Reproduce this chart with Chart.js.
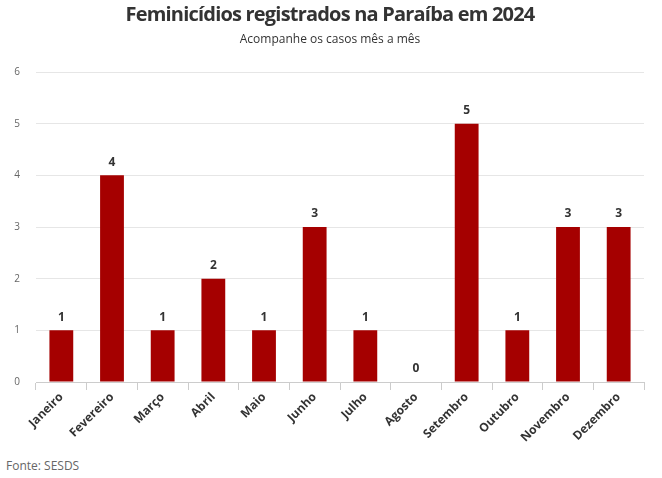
<!DOCTYPE html>
<html>
<head>
<meta charset="utf-8">
<script src="https://cdn.jsdelivr.net/npm/chart.js@4"></script>
<style>
  html, body { margin: 0; padding: 0; background: #fff; }
  #wrap { position: relative; width: 662px; height: 478px; }
  #chart { position: absolute; left: 0; top: 0; }
  .txt { position: absolute; font-family: "Open Sans", sans-serif; color: #333; white-space: nowrap; }
  #title { left: 0; width: 660px; top: 0; text-align: center; font-size: 20px; font-weight: bold; letter-spacing: -0.8px; line-height: 28px; }
  #subtitle { left: 0; width: 660px; top: 31px; text-align: center; font-size: 12px; line-height: 16px; }
  #fonte { left: 6px; top: 457px; font-size: 12px; color: #666; }
</style>
</head>
<body>
<div id="wrap">
  <canvas id="chart" width="662" height="445"></canvas>
  <div class="txt" id="title">Feminicídios registrados na Paraíba em 2024</div>
  <div class="txt" id="subtitle">Acompanhe os casos mês a mês</div>
  <div class="txt" id="fonte">Fonte: SESDS</div>
</div>
<script>
// Feminicídios por mês (Paraíba, 2024)
const months = ['Janeiro', 'Fevereiro', 'Março', 'Abril', 'Maio', 'Junho',
                'Julho', 'Agosto', 'Setembro', 'Outubro', 'Novembro', 'Dezembro']
const cases = [1, 4, 1, 2, 1, 3, 1, 0, 5, 1, 3, 3]
const yTicks = [0, 1, 2, 3, 4, 5, 6]

// draws the number above each bar
const valueLabels = {
    id: 'valueLabels',
    afterDatasetsDraw(chart) {
        const ctx = chart.ctx
        const meta = chart.getDatasetMeta(0)
        ctx.save()
        ctx.font = 'bold 12px "Open Sans", sans-serif'
        ctx.fillStyle = '#333'
        ctx.textAlign = 'center'
        ctx.textBaseline = 'bottom'
        meta.data.forEach(function (bar, i) {
            ctx.fillText(String(chart.data.datasets[0].data[i]), bar.x, bar.y - 7)
        })
        ctx.restore()
    }
}

new Chart(document.getElementById('chart'), {
    type: 'bar',
    data: {
        labels: months,
        datasets: [{
            data: cases,
            backgroundColor: '#a50000',
            categoryPercentage: 1,
            barPercentage: 0.47
        }]
    },
    plugins: [valueLabels],
    options: {
        responsive: false,
        animation: false,
        layout: { padding: { left: 0, right: 18, top: 72, bottom: 0 } },
        plugins: {
            legend: { display: false },
            tooltip: { enabled: false }
        },
        scales: {
            x: {
                grid: { drawOnChartArea: false, drawTicks: true, tickLength: 8, color: '#ccc' },
                border: { color: '#ccc' },
                ticks: {
                    color: '#333',
                    font: { family: 'Open Sans', size: 12, weight: 'bold' },
                    maxRotation: 45,
                    minRotation: 45,
                    padding: 0
                }
            },
            y: {
                min: 0,
                max: 6,
                afterBuildTicks(axis) { axis.ticks = yTicks.map(v => ({ value: v })) },
                afterFit(axis) { axis.width = 36 },
                grid: { color: '#e6e6e6', drawTicks: false },
                border: { display: false },
                ticks: {
                    color: '#666',
                    font: { family: 'Open Sans', size: 10 },
                    padding: 16
                }
            }
        }
    }
});
</script>
</body>
</html>
